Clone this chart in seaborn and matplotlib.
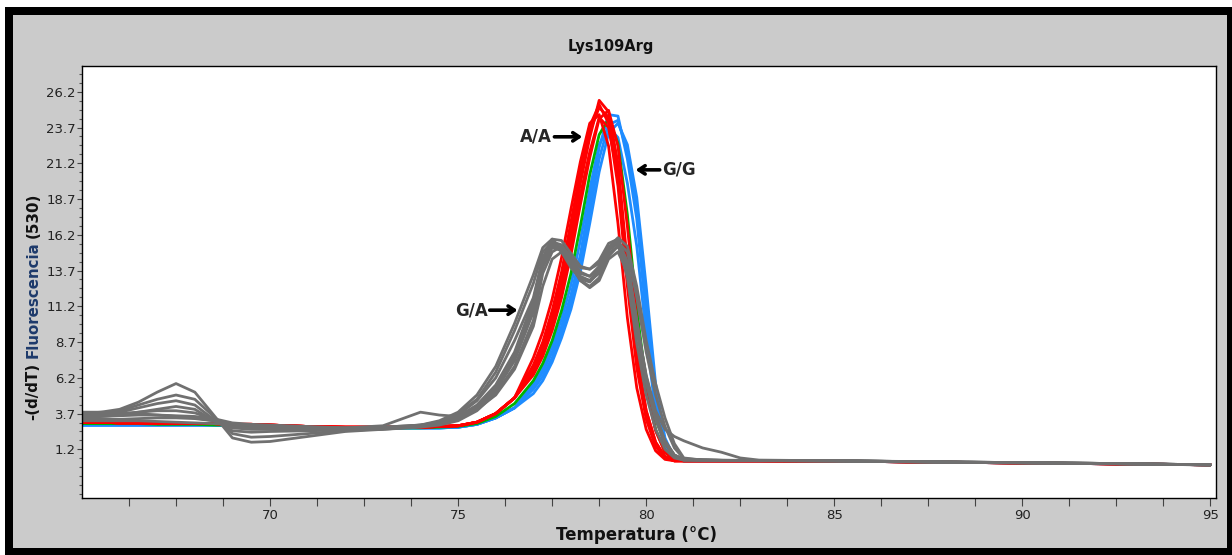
import matplotlib
matplotlib.use('Agg')
import matplotlib.pyplot as plt
import numpy as np
import pandas as pd
import seaborn as sns
from matplotlib.patches import Rectangle

# temperature grid (shared by every melting curve)
temps_low = [65.0, 65.5, 66.0, 66.5, 67.0, 67.5, 68.0, 68.5, 69.0, 69.5, 70.0,
             71.0, 72.0, 73.0, 74.0, 74.5, 75.0, 75.5, 76.0, 76.5]
temps_peak = [77.0, 77.25, 77.5, 77.75, 78.0, 78.25, 78.5, 78.75, 79.0, 79.25,
              79.5, 79.75, 80.0, 80.25, 80.5, 80.75, 81.0]
temps_tail = [81.5, 82.0, 82.5, 83.0, 85.0, 88.0, 92.0, 95.0]

# G/A heterozygotes (gray): low part, peak part, tail part per sample
ga_low = [
    [3.7, 3.8, 4.0, 4.5, 5.2, 5.8, 5.2, 3.6, 2.0, 1.7, 1.75, 2.1, 2.45, 2.6, 2.8, 3.0, 3.4, 4.2, 5.6, 7.8],
    [3.6, 3.7, 3.9, 4.3, 4.7, 5.0, 4.7, 3.5, 2.3, 2.05, 2.1, 2.3, 2.5, 2.65, 2.9, 3.2, 3.8, 5.0, 7.0, 10.0],
    [3.5, 3.6, 3.8, 4.1, 4.4, 4.6, 4.3, 3.3, 2.5, 2.4, 2.45, 2.5, 2.55, 2.65, 2.8, 2.95, 3.3, 4.0, 5.3, 7.4],
    [3.4, 3.5, 3.6, 3.8, 4.0, 4.2, 4.0, 3.2, 2.7, 2.6, 2.6, 2.6, 2.6, 2.7, 2.85, 3.1, 3.6, 4.6, 6.2, 8.8],
    [3.3, 3.3, 3.3, 3.35, 3.4, 3.4, 3.35, 3.2, 2.95, 2.85, 2.8, 2.7, 2.7, 2.85, 3.8, 3.6, 3.5, 4.0, 5.0, 6.8],
    [3.2, 3.2, 3.2, 3.2, 3.15, 3.1, 3.05, 3.0, 2.95, 2.9, 2.85, 2.75, 2.7, 2.75, 2.9, 3.1, 3.5, 4.3, 5.7, 8.0],
    [3.8, 3.8, 3.75, 3.7, 3.6, 3.5, 3.4, 3.2, 3.0, 2.9, 2.8, 2.6, 2.55, 2.6, 2.75, 2.9, 3.2, 3.9, 5.1, 7.0],
    [3.6, 3.65, 3.7, 3.8, 3.9, 3.9, 3.75, 3.3, 2.8, 2.7, 2.7, 2.65, 2.6, 2.65, 2.85, 3.1, 3.7, 4.7, 6.6, 9.5],
    [3.45, 3.5, 3.55, 3.6, 3.6, 3.55, 3.5, 3.35, 3.05, 2.95, 2.9, 2.8, 2.7, 2.75, 2.9, 3.05, 3.4, 4.1, 5.4, 7.6],
]
ga_peak = [
    [11.4, 14.4, 15.7, 15.5, 14.5, 13.6, 13.3, 14.0, 15.3, 15.8, 14.2, 9.8, 6.0, 3.4, 1.7, 0.8, 0.5],
    [13.4, 15.3, 15.9, 15.2, 14.0, 13.2, 13.0, 13.8, 15.4, 15.6, 13.2, 8.6, 5.0, 2.6, 1.2, 0.6, 0.45],
    [10.8, 13.9, 15.3, 15.1, 14.1, 13.0, 12.6, 13.2, 14.7, 15.4, 13.9, 9.6, 5.9, 3.3, 1.6, 0.7, 0.45],
    [11.8, 14.6, 15.9, 15.8, 14.9, 14.0, 13.8, 14.2, 15.3, 16.0, 15.4, 12.6, 8.8, 5.8, 3.4, 1.6, 0.6],
    [9.8, 12.6, 14.5, 15.0, 14.2, 13.0, 12.5, 13.0, 14.5, 15.0, 13.6, 9.6, 5.9, 3.3, 1.6, 0.7, 0.45],
    [11.6, 14.5, 15.5, 15.2, 14.2, 13.3, 13.0, 13.5, 14.9, 15.4, 14.1, 10.0, 6.4, 3.9, 2.6, 2.1, 1.8],
    [10.2, 13.5, 15.0, 15.4, 14.7, 13.9, 13.8, 14.4, 15.6, 15.9, 14.3, 10.1, 6.2, 3.6, 1.8, 0.8, 0.5],
    [12.8, 15.0, 15.7, 15.0, 13.9, 13.1, 12.9, 13.6, 15.1, 15.6, 14.3, 10.2, 6.3, 3.6, 1.8, 0.8, 0.5],
    [11.0, 14.1, 15.4, 15.3, 14.3, 13.5, 13.3, 13.9, 15.2, 15.7, 15.0, 11.8, 8.0, 5.0, 2.8, 1.3, 0.55],
]
ga_tail = [
    [0.45, 0.43, 0.42, 0.42, 0.40, 0.32, 0.22, 0.12],
    [0.46, 0.44, 0.43, 0.42, 0.40, 0.31, 0.21, 0.12],
    [0.44, 0.42, 0.42, 0.41, 0.39, 0.30, 0.21, 0.11],
    [0.45, 0.43, 0.42, 0.42, 0.40, 0.31, 0.22, 0.12],
    [0.44, 0.42, 0.41, 0.41, 0.39, 0.30, 0.21, 0.11],
    [1.3, 1.0, 0.6, 0.45, 0.40, 0.32, 0.22, 0.12],
    [0.45, 0.43, 0.42, 0.42, 0.40, 0.31, 0.22, 0.12],
    [0.45, 0.43, 0.42, 0.42, 0.40, 0.32, 0.22, 0.12],
    [0.46, 0.44, 0.43, 0.42, 0.41, 0.32, 0.22, 0.12],
]

# A/A homozygotes (red)
aa_low = [3.1, 3.1, 3.05, 3.05, 3.0, 3.0, 3.0, 3.0, 2.95, 2.95, 2.9,
          2.8, 2.75, 2.75, 2.75, 2.8, 2.85, 3.1, 3.7, 4.8]
aa_peak = [
    [6.8, 8.3, 10.3, 12.8, 16.2, 19.8, 23.0, 25.6, 24.8, 21.2, 14.2, 7.9, 3.9, 1.7, 0.7, 0.4, 0.4],
    [7.6, 9.4, 11.7, 14.6, 18.0, 21.3, 24.0, 24.6, 22.4, 17.0, 10.4, 5.5, 2.6, 1.1, 0.5, 0.4, 0.4],
    [6.4, 7.7, 9.5, 11.8, 14.8, 18.3, 21.6, 24.3, 24.9, 22.4, 16.8, 10.2, 5.4, 2.5, 1.0, 0.45, 0.4],
    [6.6, 8.0, 9.9, 12.3, 15.5, 19.0, 22.0, 24.4, 23.7, 20.3, 13.7, 7.7, 3.9, 1.7, 0.7, 0.4, 0.4],
    [7.1, 8.7, 10.9, 13.6, 17.1, 20.6, 23.8, 25.3, 24.0, 19.6, 12.6, 6.9, 3.3, 1.4, 0.6, 0.4, 0.4],
    [6.9, 8.5, 10.6, 13.2, 16.6, 20.2, 23.4, 25.1, 24.4, 20.6, 13.8, 7.6, 3.6, 1.6, 0.65, 0.4, 0.4],
]

# single green trace
green_low = [3.0, 3.0, 3.0, 3.0, 2.95, 2.95, 2.95, 2.9, 2.9, 2.85, 2.85,
             2.75, 2.7, 2.7, 2.7, 2.75, 2.8, 3.0, 3.5, 4.4]
green_peak = [6.0, 7.2, 8.8, 10.9, 13.5, 16.8, 20.4, 23.2, 24.3, 22.6, 17.6, 11.0, 5.8, 2.6, 1.0, 0.45, 0.4]

# G/G homozygotes (blue)
gg_low = [2.9, 2.9, 2.9, 2.9, 2.9, 2.9, 2.9, 2.9, 2.85, 2.85, 2.8,
          2.75, 2.7, 2.7, 2.7, 2.7, 2.75, 2.95, 3.4, 4.1]
gg_peak = [
    [5.6, 6.6, 8.0, 9.8, 12.0, 14.8, 18.6, 22.3, 24.6, 24.5, 21.5, 17.3, 10.5, 4.4, 1.4, 0.5, 0.4],
    [5.1, 6.0, 7.3, 9.0, 11.0, 13.6, 17.0, 20.6, 23.3, 24.0, 22.5, 18.8, 12.6, 5.8, 2.0, 0.6, 0.4],
    [5.8, 6.9, 8.4, 10.3, 12.7, 15.8, 19.4, 22.5, 23.7, 23.0, 19.8, 15.4, 9.2, 3.8, 1.2, 0.5, 0.4],
    [5.4, 6.3, 7.6, 9.4, 11.5, 14.2, 17.8, 21.5, 23.9, 24.2, 22.0, 18.0, 11.6, 5.0, 1.7, 0.55, 0.4],
]

homo_tail = [0.4, 0.4, 0.4, 0.4, 0.38, 0.3, 0.2, 0.12]

y_ticks = [1.2, 3.7, 6.2, 8.7, 11.2, 13.7, 16.2, 18.7, 21.2, 23.7, 26.2]
x_ticks = [70, 75, 80, 85, 90, 95]

# long-form table
temps = temps_low + temps_peak + temps_tail
rows = []

def add_curve(genotype, sample, values):
    for t, v in zip(temps, values):
        rows.append({'genotipo': genotype, 'muestra': sample, 'temp': t, 'valor': v})

for i in range(len(ga_low)):
    add_curve('G/A', f'ga{i}', ga_low[i] + ga_peak[i] + ga_tail[i])
for i, pk in enumerate(aa_peak):
    add_curve('A/A', f'aa{i}', aa_low + pk + homo_tail)
add_curve('verde', 'v0', green_low + green_peak + homo_tail)
for i, pk in enumerate(gg_peak):
    add_curve('G/G', f'gg{i}', gg_low + pk + homo_tail)

df = pd.DataFrame(rows)

sns.set_style('white')
plt.rcParams['font.family'] = ['DejaVu Sans']

W, H = 1232, 555
fig = plt.figure(figsize=(W / 100, H / 100), dpi=100, facecolor='white')

# window frame: black border, gray panel
fig.add_artist(Rectangle((5 / W, 0), (W - 5) / W, 548 / H, transform=fig.transFigure,
                         facecolor='black', edgecolor='none', zorder=-10))
fig.add_artist(Rectangle((13 / W, 7 / H), (1227 - 13) / W, (540 - 7) / H, transform=fig.transFigure,
                         facecolor='#cbcbcb', edgecolor='none', zorder=-9))

ax = fig.add_axes([82 / W, (H - 498) / H, (1216 - 82) / W, (498 - 66) / H])
ax.set_facecolor('white')

palette = {'G/G': '#1e8cff', 'verde': '#00b400', 'A/A': '#ff0000', 'G/A': '#707070'}
sns.lineplot(data=df, x='temp', y='valor', hue='genotipo', units='muestra', estimator=None,
             hue_order=['G/G', 'verde', 'A/A', 'G/A'], palette=palette,
             linewidth=2.0, legend=False, ax=ax)
for ln in ax.lines:
    ln.set_solid_joinstyle('round')

ax.set_xlim(65.0, 95.15)
ax.set_ylim(-2.2, 28.0)
ax.set_xticks(x_ticks)
ax.set_xticks(np.arange(66.25, 95.1, 1.25), minor=True)
ax.set_yticks(y_ticks)
ax.set_yticks(np.arange(-1.925, 28.0, 0.625), minor=True)
ax.set_xticklabels([str(v) for v in x_ticks])
ax.set_yticklabels([f'{v:.1f}' for v in y_ticks])
ax.tick_params(axis='both', which='both', bottom=True, left=True, top=False, right=False)
ax.tick_params(axis='x', which='both', direction='out', length=5.5, width=0.8,
               color='#444444', labelsize=9.5, pad=2.5, labelcolor='#222222')
ax.tick_params(axis='y', which='major', direction='out', length=3.5, width=0.8,
               color='#444444', labelsize=9.5, pad=1, labelcolor='#222222')
ax.tick_params(axis='y', which='minor', direction='out', length=2, width=0.8, color='#555555')
ax.set_xlabel('')
ax.set_ylabel('')
for sp in ax.spines.values():
    sp.set_color('black')
    sp.set_linewidth(1.0)

# genotype callouts
arrow_kw = dict(arrowstyle='->,head_length=0.45,head_width=0.3', lw=2.6, color='black',
                shrinkA=0, shrinkB=0)
ax.annotate('', xy=(78.30, 23.05), xytext=(77.56, 23.05), arrowprops=arrow_kw)
ax.text(77.50, 23.05, 'A/A', ha='right', va='center', fontsize=12, fontweight='bold')
ax.annotate('', xy=(79.72, 20.74), xytext=(80.36, 20.74), arrowprops=arrow_kw)
ax.text(80.42, 20.74, 'G/G', ha='left', va='center', fontsize=12, fontweight='bold')
ax.annotate('', xy=(76.58, 10.93), xytext=(75.84, 10.93), arrowprops=arrow_kw)
ax.text(75.78, 10.93, 'G/A', ha='right', va='center', fontsize=12, fontweight='bold')

# titles
fig.text(611 / W, 1 - 46 / H, 'Lys109Arg', ha='center', va='center',
         fontsize=10.5, fontweight='bold', color='#111111')
fig.text(636 / W, 1 - 535 / H, 'Temperatura (°C)', ha='center', va='center',
         fontsize=12, fontweight='bold', color='#111111')

# y label in three pieces (middle word in dark blue)
parts = [('-(d/dT)', '#111111'), ('Fluorescencia', '#1d3a6b'), ('(530)', '#111111')]
renderer = fig.canvas.get_renderer()
pieces = []
for s, c in parts:
    t = fig.text(33 / W, 0, s, rotation=90, ha='center', va='bottom',
                 fontsize=10.8, fontweight='bold', color=c)
    pieces.append(t)
heights = [t.get_window_extent(renderer).height for t in pieces]
gap = 4
total = sum(heights) + gap * (len(pieces) - 1)
y0 = (H - 306) - total / 2
for t, h in zip(pieces, heights):
    t.set_y(y0 / H)
    y0 += h + gap

fig.savefig('out.png', dpi=100, facecolor=fig.get_facecolor())
